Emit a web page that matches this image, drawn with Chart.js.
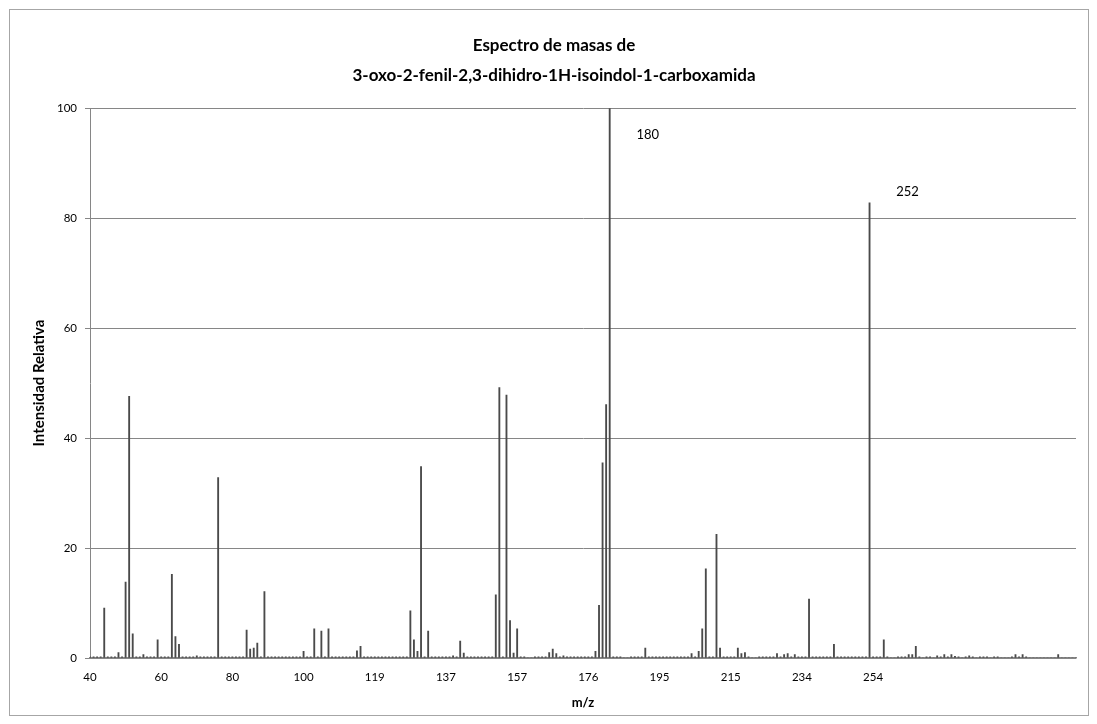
<!DOCTYPE html>
<html>
<head>
<meta charset="utf-8">
<script src="https://cdn.jsdelivr.net/npm/chart.js@4.4.1/dist/chart.umd.min.js"></script>
<style>
 html, body { margin: 0; padding: 0; background: #fff; }
 #box { position: absolute; left: 9px; top: 9px; width: 1078px; height: 705px; border: 1px solid #a6a6a6; }
 canvas { display: block; }
</style>
</head>
<body>
<div id="box"><canvas id="espectro" width="1078" height="705"></canvas></div>
<script>
// etiquetas del eje x (una cada 20 categorias)
const tickLabels = ['40', '60', '80', '100', '119', '137', '157', '176', '195', '215', '234', '254'];

// intensidad relativa por categoria, 20 valores por fila
const intensidad = [
 0.2, 0.2, 0.2, 0.2, 9.1, 0.2, 0.2, 0.2, 1.0, 0.2, 13.8, 47.6, 4.4, 0.2, 0.2, 0.6, 0.2, 0.2, 0.2, 3.3,
 0.2, 0.2, 0.2, 15.2, 3.9, 2.5, 0.2, 0.2, 0.2, 0.2, 0.4, 0.2, 0.2, 0.2, 0.2, 0.2, 32.8, 0.2, 0.2, 0.2,
 0.2, 0.2, 0.2, 0.2, 5.1, 1.6, 1.8, 2.7, 0.2, 12.1, 0.2, 0.2, 0.2, 0.2, 0.2, 0.2, 0.2, 0.2, 0.2, 0.2,
 1.2, 0.2, 0.2, 5.3, 0.2, 4.9, 0.2, 5.3, 0.2, 0.2, 0.2, 0.2, 0.2, 0.2, 0.2, 1.3, 2.1, 0.2, 0.2, 0.2,
 0.2, 0.2, 0.2, 0.2, 0.2, 0.2, 0.2, 0.2, 0.2, 0.2, 8.6, 3.3, 1.2, 34.8, 0.2, 4.9, 0.2, 0.2, 0.2, 0.2,
 0.2, 0.2, 0.4, 0.2, 3.1, 0.9, 0.2, 0.2, 0.2, 0.2, 0.2, 0.2, 0.2, 0.2, 11.5, 49.2, 0.2, 47.8, 6.8, 0.9,
 5.3, 0.2, 0.2, 0, 0, 0.2, 0.2, 0.2, 0.2, 1.0, 1.6, 0.8, 0.2, 0.4, 0.2, 0.2, 0.2, 0.2, 0.2, 0.2,
 0.2, 0.2, 1.2, 9.6, 35.5, 46.1, 100, 0.2, 0.2, 0.2, 0, 0, 0.2, 0.2, 0.2, 0.2, 1.8, 0.2, 0.2, 0.2,
 0.2, 0.2, 0.2, 0.2, 0.2, 0.2, 0.2, 0.2, 0.2, 0.8, 0.2, 1.2, 5.3, 16.2, 0.2, 0.2, 22.5, 1.8, 0.2, 0.2,
 0.2, 0.2, 1.8, 0.8, 1.0, 0.2, 0, 0, 0.2, 0.2, 0.2, 0.2, 0.2, 0.8, 0.2, 0.6, 0.8, 0.2, 0.6, 0.2,
 0.2, 0.2, 10.7, 0.2, 0.2, 0.2, 0.2, 0.2, 0.2, 2.5, 0.2, 0.2, 0.2, 0.2, 0.2, 0.2, 0.2, 0.2, 0.2, 82.8,
 0.2, 0.2, 0.2, 3.3, 0.2, 0, 0, 0.2, 0.2, 0.2, 0.6, 0.6, 2.1, 0.2, 0, 0.2, 0.2, 0, 0.4, 0.2,
 0.6, 0.2, 0.6, 0.3, 0.2, 0, 0.2, 0.4, 0.2, 0, 0.2, 0.2, 0.2, 0, 0.2, 0.2, 0, 0, 0, 0.2,
 0.6, 0.2, 0.6, 0.2, 0, 0, 0, 0, 0, 0, 0, 0, 0.6, 0, 0, 0, 0, 0
];

// picos rotulados
const picoTextos = ['180', '252'];
const picoIndices = [146, 219];

const categorias = intensidad.map((v, i) => String(i));

// rotulos de los picos (como las etiquetas de datos de Excel)
const rotulosPicos = {
 id: 'rotulosPicos',
 afterDatasetsDraw(chart) {
  const ctx = chart.ctx;
  const meta = chart.getDatasetMeta(0);
  const area = chart.chartArea;
  ctx.save();
  ctx.font = '13px Lato';
  ctx.fillStyle = '#000';
  ctx.textAlign = 'center';
  ctx.textBaseline = 'middle';
  picoIndices.forEach((idx, k) => {
   const bar = meta.data[idx];
   const y = Math.max(bar.y - 11, area.top + 27);
   ctx.fillText(picoTextos[k], bar.x + 38, y);
  });
  ctx.restore();
 }
};

new Chart(document.getElementById('espectro'), {
 type: 'bar',
 data: {
  labels: categorias,
  datasets: [{
   label: 'Intensidad Relativa',
   data: intensidad,
   backgroundColor: '#4a4a4a',
   borderWidth: 0,
   barThickness: 1.2
  }]
 },
 options: {
  responsive: false,
  animation: false,
  layout: { padding: { left: 18, right: 8, top: 0, bottom: 0 } },
  plugins: {
   legend: { display: false },
   tooltip: { enabled: false },
   title: {
    display: true,
    text: ['Espectro de masas de', '3-oxo-2-fenil-2,3-dihidro-1H-isoindol-1-carboxamida'],
    color: '#000',
    font: { family: 'Lato', weight: 'bold', size: 17, lineHeight: 1.77 },
    padding: { top: 20, bottom: 18 }
   }
  },
  scales: {
   x: {
    type: 'category',
    offset: false,
    grid: { display: false, drawTicks: false },
    border: { color: '#868686', width: 1.5 },
    ticks: {
     autoSkip: false, maxRotation: 0, minRotation: 0, padding: 12,
     color: '#000', font: { family: 'Lato', size: 11.5 },
     callback: (v, i) => (i % 20 === 0 ? (tickLabels[i / 20] || '') : '')
    },
    title: {
     display: true, text: 'm/z', color: '#000',
     font: { family: 'Lato', weight: 'bold', size: 13 },
     padding: { top: 0, bottom: 4 }
    },
    afterFit: s => { s.height = 57; }
   },
   y: {
    min: 0, max: 100,
    ticks: { stepSize: 20, padding: 8, color: '#000', font: { family: 'Lato', size: 11.5 } },
    grid: { color: '#868686', tickLength: 5 },
    border: { color: '#868686', width: 1 },
    title: {
     display: true, text: 'Intensidad Relativa', color: '#000',
     font: { family: 'Lato', weight: 'bold', size: 15 },
     padding: { top: 2, bottom: 0 }
    },
    afterFit: s => { s.width = 62; }
   }
  }
 },
 plugins: [rotulosPicos]
});
</script>
</body>
</html>
